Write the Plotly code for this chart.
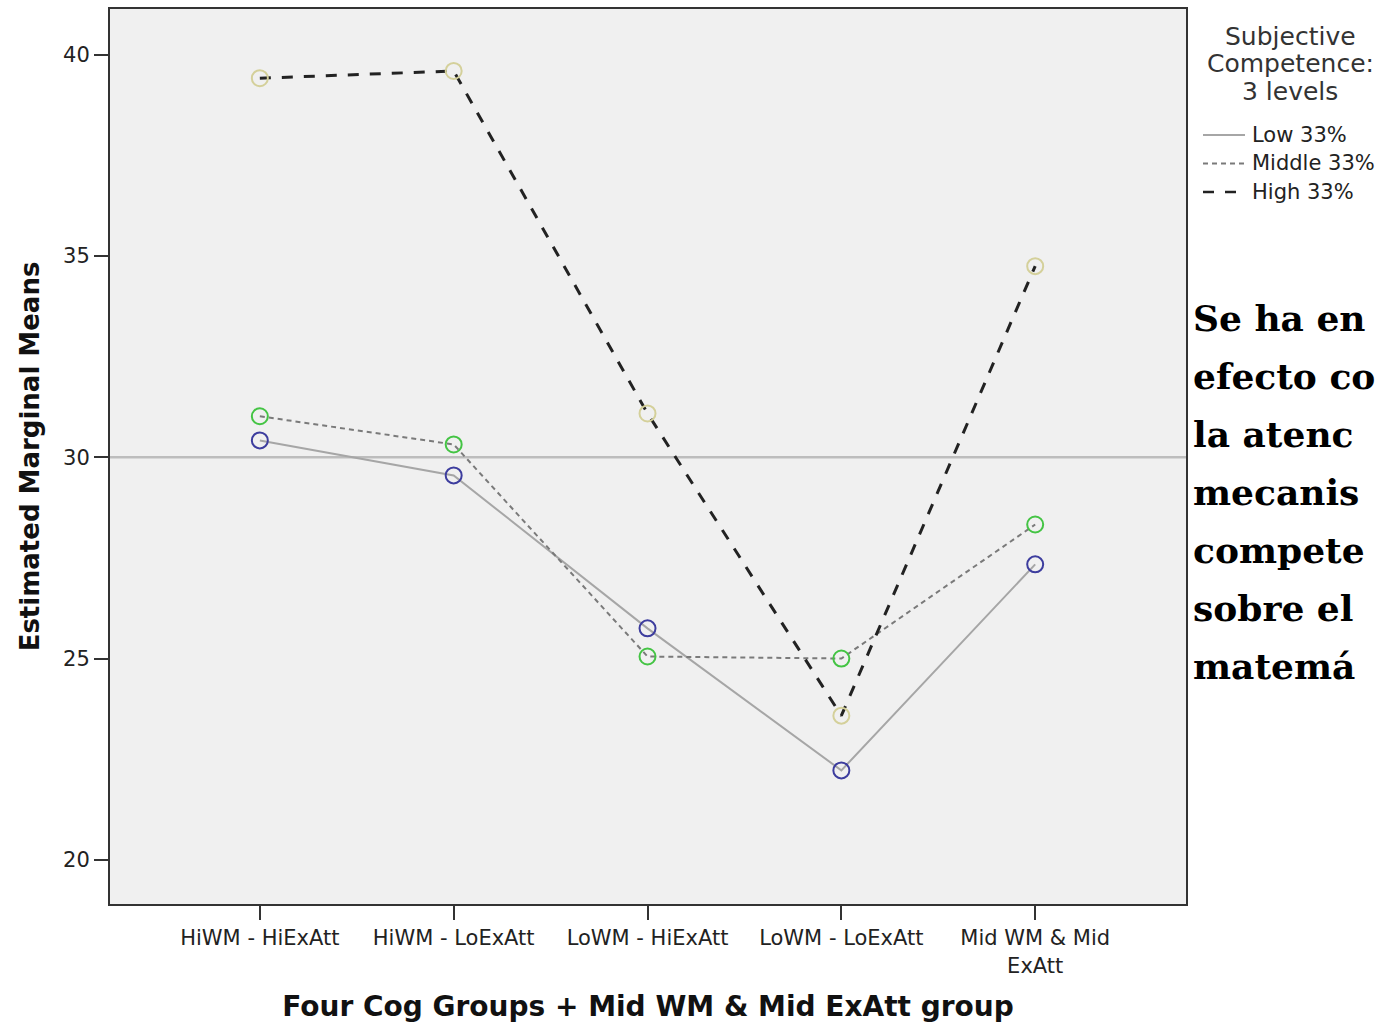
import plotly.graph_objects as go

categories = ["HiWM - HiExAtt", "HiWM - LoExAtt", "LoWM - HiExAtt", "LoWM - LoExAtt", "Mid WM & Mid<br>ExAtt"]
low_33 = [30.42, 29.55, 25.75, 22.22, 27.34]
middle_33 = [31.02, 30.32, 25.05, 25.0, 28.33]
high_33 = [39.42, 39.6, 31.09, 23.58, 34.75]
y_ticks = [20, 25, 30, 35, 40]
legend_title = ["Subjective", "Competence:", "3 levels"]
series_names = ["Low 33%", "Middle 33%", "High 33%"]
side_text = ["Se ha en", "efecto co", "la atenc", "mecanis", "compete", "sobre el", "matemá"]

W, H = 1382, 1023
L, R, T, B = 110, 196, 9, 119
PW, PH = W - L - R, H - T - B


def px_x(px):
    return (px - L) / PW


def px_y(py):
    return (H - B - py) / PH


xi = list(range(len(categories)))

styles = [
    (dict(color="#a6a6a6", width=2, dash="solid"), "#3d3d9e"),
    (dict(color="#7a7a7a", width=2, dash="5px,4px"), "#44c444"),
    (dict(color="#222222", width=3, dash="11px,11px"), "#d4d09a"),
]
values = [low_33, middle_33, high_33]

fig = go.Figure()
for name, vals, (line, mcol) in zip(series_names, values, styles):
    fig.add_trace(go.Scatter(
        x=xi, y=vals, mode="lines+markers", name=name, showlegend=False,
        line=line,
        marker=dict(symbol="circle-open", size=16, color=mcol, line=dict(width=2, color=mcol)),
        hoverinfo="skip",
    ))

# reference line at 30
fig.add_shape(type="line", xref="paper", yref="y", x0=0, x1=1, y0=30, y1=30,
              line=dict(color="#bdbdbd", width=2.5), layer="below")

# legend (drawn manually so the sample lines match)
for i, t in enumerate(legend_title):
    fig.add_annotation(xref="paper", yref="paper", x=px_x(1290), y=px_y(36 + i * 27.5),
                       xanchor="center", yanchor="middle", showarrow=False, text=t,
                       font=dict(family="DejaVu Sans", size=25, color="#333333"))
for i, (name, (line, mcol)) in enumerate(zip(series_names, styles)):
    yy = px_y(135 + i * 28.5)
    lw = dict(line)
    lw["width"] = 2 if i < 2 else 2.5
    fig.add_shape(type="line", xref="paper", yref="paper", x0=px_x(1203), x1=px_x(1245),
                  y0=yy, y1=yy, line=lw)
    fig.add_annotation(xref="paper", yref="paper", x=px_x(1250), y=yy,
                       xanchor="left", yanchor="middle", showarrow=False, text=name,
                       font=dict(family="DejaVu Sans", size=21, color="#222222"))

for i, t in enumerate(side_text):
    fig.add_annotation(
        xref="paper", yref="paper",
        x=px_x(1191), y=px_y(318 + i * 58),
        xanchor="left", yanchor="middle", showarrow=False,
        text="<b>" + t + "</b>",
        font=dict(family="DejaVu Serif", size=36, color="#000000"),
    )

fig.update_layout(
    width=W, height=H,
    margin=dict(l=L, r=R, t=T, b=B, autoexpand=False),
    paper_bgcolor="#ffffff",
    plot_bgcolor="#f0f0f0",
    font=dict(family="DejaVu Sans", color="#222222"),
    showlegend=False,
    xaxis=dict(
        range=[-0.773, 4.778],
        tickmode="array", tickvals=xi, ticktext=categories,
        ticks="outside", ticklen=14, tickwidth=1.5, tickcolor="#333333",
        tickfont=dict(family="DejaVu Sans", size=21, color="#222222"),
        showgrid=False, zeroline=False,
        showline=True, linecolor="#333333", linewidth=2, mirror=True,
        title=dict(text="<b>Four Cog Groups + Mid WM & Mid ExAtt group</b>",
                   font=dict(family="DejaVu Sans", size=28, color="#111111"), standoff=20),
    ),
    yaxis=dict(
        range=[18.9, 41.14],
        tickmode="array", tickvals=y_ticks, ticktext=[str(v) for v in y_ticks],
        ticks="outside", ticklen=14, tickwidth=2, tickcolor="#333333",
        tickfont=dict(family="DejaVu Sans", size=21, color="#222222"),
        showgrid=False, zeroline=False,
        showline=True, linecolor="#333333", linewidth=2, mirror=True,
        title=dict(text="<b>Estimated Marginal Means</b>",
                   font=dict(family="DejaVu Sans", size=26, color="#111111"), standoff=16),
    ),
)

fig.write_html("out.html",
               config={"displayModeBar": False},
               post_script="document.body.style.margin='0';document.body.style.overflow='hidden';")
